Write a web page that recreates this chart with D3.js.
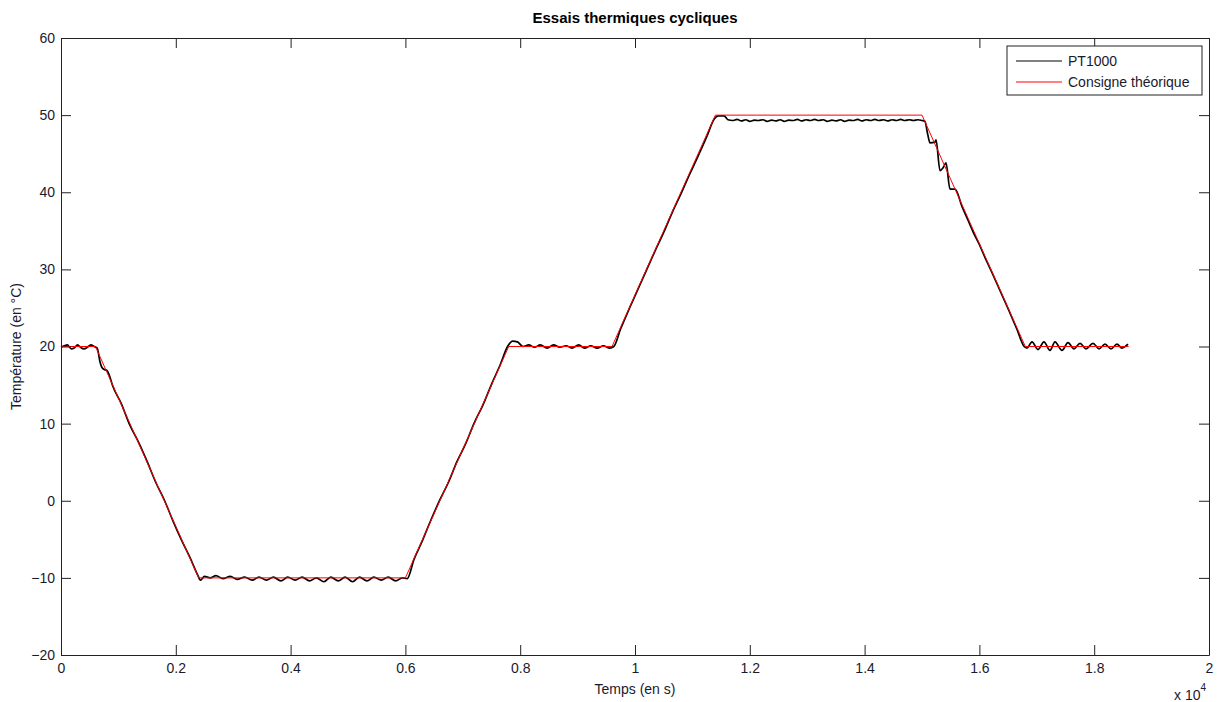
<!DOCTYPE html>
<html>
<head>
<meta charset="utf-8">
<script src="https://cdn.jsdelivr.net/npm/d3@7"></script>
<style>
  body { margin: 0; background: #fff; }
  svg { font-family: "Liberation Sans", Arial, sans-serif; }
</style>
</head>
<body>
<div id="chart"></div>
<script>
// essais thermiques - PT1000 vs consigne

var width = 1218;
var height = 702;
var margin = {left: 61, right: 9, top: 38, bottom: 47};

var xTicks = [0, 0.2, 0.4, 0.6, 0.8, 1, 1.2, 1.4, 1.6, 1.8, 2];
var yTicks = [-20, -10, 0, 10, 20, 30, 40, 50, 60];

// consigne theorique : [temps (s), temperature (C)]
var consigneT = [0, 600, 2400, 6000, 7800, 9600, 11400, 15000, 16800, 18600];
var consigneV = [20, 20, -10, -10, 20, 20, 50, 50, 20, 20];

var pt1000T = [
  0, 60, 110, 180, 230, 290, 340, 400, 460, 520, 580, 630,
  680, 720, 760, 800, 840, 900, 1050, 1200, 1350, 1500, 1650, 1800, 1950, 2100, 2250, 2380,
  2430, 2500, 2600, 2700, 2820, 2950, 3070, 3200, 3330, 3450, 3580, 3700, 3830, 3950,
  4080, 4200, 4330, 4450, 4580, 4700, 4830, 4950, 5080, 5200, 5330, 5450, 5580, 5700,
  5830, 5950, 6030,
  6150, 6300, 6450, 6600, 6750, 6900, 7050, 7200, 7350, 7500, 7650, 7780, 7870, 7950, 8050,
  8150, 8250, 8350, 8470, 8580, 8690, 8800, 8900, 9020, 9120, 9230, 9340, 9450, 9560, 9630,
  9750, 9900, 10050, 10200, 10350, 10500, 10650, 10800, 10950, 11100, 11250, 11380, 11450, 11550, 11620,
  11700, 11780, 11850, 11930, 12000, 12080, 12150, 12230, 12300, 12380, 12450, 12530, 12600, 12680,
  12750, 12830, 12900, 12980, 13050, 13130, 13200, 13280, 13350, 13430, 13500, 13580, 13650, 13730,
  13800, 13880, 13950, 14030, 14100, 14180, 14250, 14330, 14400, 14480, 14550, 14630, 14700, 14780,
  14850, 14930, 15000, 15050,
  15100, 15140, 15226, 15244, 15314, 15370, 15418, 15488, 15575, 15700, 15800, 15900, 16000, 16100,
  16200, 16350, 16500, 16650, 16780,
  16830, 16916, 17021, 17125, 17230, 17317, 17439, 17544, 17648, 17753, 17857, 17979, 18084, 18188,
  18293, 18397, 18484, 18589
];
var pt1000V = [
  19.9, 20.1, 20.2, 19.7, 19.8, 20.2, 19.9, 19.7, 19.9, 20.2, 20.0, 19.8,
  18.0, 17.2, 17.0, 16.9, 16.3, 14.9, 12.6, 9.8, 7.6, 5.1, 2.4, 0.1, -2.6, -5.1, -7.4, -9.6,
  -10.3, -9.8, -10.0, -9.7, -10.1, -9.8, -10.2, -9.9, -10.3, -9.9, -10.3, -9.9, -10.4, -9.9,
  -10.3, -9.9, -10.4, -10.0, -10.5, -9.9, -10.4, -9.9, -10.5, -9.9, -10.4, -9.9, -10.3, -9.9,
  -10.4, -10.0, -10.1,
  -7.6, -5.1, -2.4, 0.1, 2.4, 5.1, 7.4, 10.1, 12.4, 15.1, 17.6, 20.0, 20.7, 20.6, 20.0,
  20.2, 19.9, 20.2, 19.8, 20.2, 19.9, 20.1, 19.8, 20.2, 19.8, 20.1, 19.8, 20.1, 19.8, 20.0,
  22.3, 24.9, 27.4, 29.9, 32.4, 34.8, 37.4, 39.8, 42.3, 44.7, 47.2, 49.5, 49.9, 49.9, 49.4,
  49.3, 49.45, 49.25, 49.4, 49.2, 49.35, 49.3, 49.4, 49.2, 49.35, 49.25, 49.4, 49.2, 49.35,
  49.3, 49.45, 49.25, 49.4, 49.3, 49.45, 49.3, 49.4, 49.2, 49.35, 49.25, 49.4, 49.2, 49.35,
  49.3, 49.45, 49.25, 49.4, 49.3, 49.45, 49.3, 49.4, 49.25, 49.4, 49.3, 49.45, 49.3, 49.4,
  49.3, 49.4, 49.3, 49.2,
  47.5, 46.4, 46.5, 46.8, 42.8, 43.2, 43.8, 40.4, 40.4, 38.1, 36.4, 34.7, 33.2, 31.5,
  29.9, 27.4, 24.9, 22.3, 20.0,
  19.8, 20.6, 19.6, 20.6, 19.5, 20.6, 19.5, 20.5, 19.7, 20.4, 19.7, 20.4, 19.7, 20.3,
  19.7, 20.3, 19.8, 20.3
];

var seriesNames = ["PT1000", "Consigne théorique"];
var seriesColors = ["#000000", "#ff0000"];

var svg = d3.select("#chart").append("svg")
  .attr("width", width)
  .attr("height", height);

var x = d3.scaleLinear().domain([0, 20000]).range([margin.left, width - margin.right]);
var y = d3.scaleLinear().domain([-20, 60]).range([height - margin.bottom, margin.top]);

var line = d3.line()
  .x(function(d){ return x(d[0]); })
  .y(function(d){ return y(d[1]); });

var consigne = consigneT.map(function(t, i){ return [t, consigneV[i]]; });
var mesure = pt1000T.map(function(t, i){ return [t, pt1000V[i]]; });

// courbes
svg.append("path")
  .datum(mesure)
  .attr("d", line.curve(d3.curveMonotoneX))
  .attr("fill", "none")
  .attr("stroke", seriesColors[0])
  .attr("stroke-width", 1.7);

svg.append("path")
  .datum(consigne)
  .attr("d", line.curve(d3.curveLinear))
  .attr("fill", "none")
  .attr("stroke", seriesColors[1])
  .attr("stroke-width", 1);

// axes (ticks vers l'interieur, style matlab)
var fmtX = function(d){ return d3.format("~g")(d); };
var xAxis = d3.axisBottom(x)
  .tickValues(xTicks.map(function(v){ return v * 1e4; }))
  .tickFormat(function(d){ return fmtX(d / 1e4); })
  .tickSizeInner(-10).tickSizeOuter(0).tickPadding(15);
var yAxis = d3.axisLeft(y).tickValues(yTicks).tickSizeInner(-10).tickSizeOuter(0).tickPadding(16);

var gx = svg.append("g").attr("transform", "translate(0," + (height - margin.bottom) + ")").call(xAxis);
var gy = svg.append("g").attr("transform", "translate(" + margin.left + ",0)").call(yAxis);
svg.append("g").attr("transform", "translate(0," + margin.top + ")")
  .call(d3.axisTop(x).tickValues(xTicks.map(function(v){ return v * 1e4; })).tickFormat("").tickSizeInner(-10).tickSizeOuter(0));
svg.append("g").attr("transform", "translate(" + (width - margin.right) + ",0)")
  .call(d3.axisRight(y).tickValues(yTicks).tickFormat("").tickSizeInner(-10).tickSizeOuter(0));

svg.selectAll(".domain").attr("stroke", "#222");
svg.selectAll(".tick line").attr("stroke", "#222");
svg.selectAll(".tick text").attr("font-size", 14).attr("fill", "#1a1a2e")
  .attr("font-family", "'Liberation Sans', Arial, sans-serif");
gy.selectAll(".tick text").attr("dx", "10");
gx.selectAll(".tick text").attr("dy", "0.2em");

// titres
svg.append("text")
  .attr("x", 635).attr("y", 23)
  .attr("text-anchor", "middle")
  .attr("font-size", 15).attr("font-weight", "bold")
  .text("Essais thermiques cycliques");

svg.append("text")
  .attr("x", (margin.left + width - margin.right) / 2).attr("y", 694)
  .attr("text-anchor", "middle")
  .attr("font-size", 14).attr("fill", "#1a1a2e")
  .text("Temps (en s)");

svg.append("text")
  .attr("transform", "translate(21," + ((margin.top + height - margin.bottom) / 2) + ") rotate(-90)")
  .attr("text-anchor", "middle")
  .attr("font-size", 14).attr("fill", "#1a1a2e")
  .text("Température (en °C)");

var expo = svg.append("text")
  .attr("x", 1174).attr("y", 700)
  .attr("font-size", 14).attr("fill", "#1a1a2e");
expo.append("tspan").text("x 10");
expo.append("tspan").attr("dy", -9).attr("font-size", 10).text("4");

// legende
var leg = svg.append("g").attr("transform", "translate(1007,46)");
leg.append("rect")
  .attr("width", 195).attr("height", 49)
  .attr("fill", "#fff").attr("stroke", "#222");
seriesNames.forEach(function(name, i){
  var yy = 15 + i * 21;
  leg.append("line")
    .attr("x1", 9).attr("x2", 55).attr("y1", yy).attr("y2", yy)
    .attr("stroke", seriesColors[i]).attr("stroke-width", 1);
  leg.append("text")
    .attr("x", 61).attr("y", yy + 5)
    .attr("font-size", 14).attr("fill", "#1a1a2e")
    .text(name);
});
</script>
</body>
</html>
